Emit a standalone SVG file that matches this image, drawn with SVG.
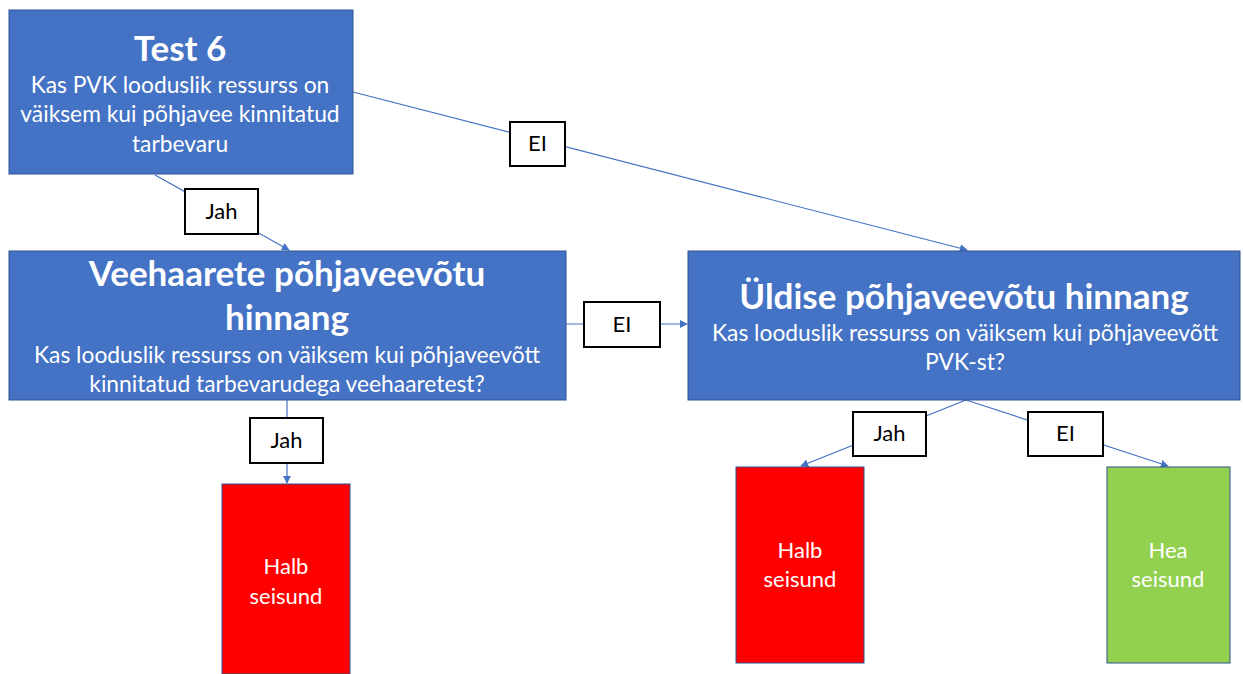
<svg xmlns="http://www.w3.org/2000/svg" width="1243" height="674" viewBox="0 0 1243 674">
  <style>
    .blue { fill: #4472C4; stroke: #2F528F; stroke-width: 1; }
    .red { fill: #FF0000; stroke: #2F528F; stroke-width: 1; }
    .green { fill: #92D050; stroke: #2F528F; stroke-width: 1; }
    .lbl { fill: #FFFFFF; stroke: #000000; stroke-width: 2; }
    .title { font-family: Lato, "Open Sans", sans-serif; font-weight: bold; font-size: 35px; fill: #FFFFFF; text-anchor: middle; }
    .sub { font-family: Lato, "Open Sans", sans-serif; font-size: 22.8px; fill: #FFFFFF; text-anchor: middle; }
    .state { font-family: Lato, "Open Sans", sans-serif; font-size: 22px; fill: #FFFFFF; text-anchor: middle; }
    .ltxt { font-family: Lato, "Open Sans", sans-serif; font-size: 22px; fill: #000000; text-anchor: middle; }
    .conn { stroke: #4472C4; stroke-width: 1.2; fill: none; }
  </style>
  <defs>
    <marker id="arrow" viewBox="0 0 10 10" refX="9" refY="5" markerWidth="8" markerHeight="8" markerUnits="userSpaceOnUse" orient="auto">
      <path d="M0,0 L10,5 L0,10 z" fill="#4472C4"/>
    </marker>
  </defs>
  <rect width="1243" height="674" fill="#FFFFFF"/>

  <!-- connectors -->
  <g id="connectors">
    <line class="conn" x1="155" y1="175" x2="289" y2="250" marker-end="url(#arrow)"/>
    <line class="conn" x1="353" y1="92" x2="967" y2="250" marker-end="url(#arrow)"/>
    <line class="conn" x1="566" y1="324" x2="687" y2="324" marker-end="url(#arrow)"/>
    <line class="conn" x1="287" y1="400" x2="287" y2="483" marker-end="url(#arrow)"/>
    <line class="conn" x1="966" y1="400" x2="801" y2="466" marker-end="url(#arrow)"/>
    <line class="conn" x1="966" y1="400" x2="1168" y2="466" marker-end="url(#arrow)"/>
  </g>

  <g id="test6">
    <rect class="blue" x="9" y="10" width="344" height="164"/>
    <text class="title" x="180" y="61">Test 6</text>
    <text class="sub" x="180" y="93">Kas PVK looduslik ressurss on</text>
    <text class="sub" x="180" y="122">väiksem kui põhjavee kinnitatud</text>
    <text class="sub" x="180" y="152">tarbevaru</text>
  </g>

  <g id="veehaarete">
    <rect class="blue" x="9" y="251" width="557" height="149"/>
    <text class="title" x="287" y="286">Veehaarete põhjaveevõtu</text>
    <text class="title" x="287" y="330">hinnang</text>
    <text class="sub" x="287" y="363">Kas looduslik ressurss on väiksem kui põhjaveevõtt</text>
    <text class="sub" x="287" y="392">kinnitatud tarbevarudega veehaaretest?</text>
  </g>

  <g id="yldise">
    <rect class="blue" x="688" y="251" width="552" height="149"/>
    <text class="title" x="964" y="309">Üldise põhjaveevõtu hinnang</text>
    <text class="sub" x="965" y="341">Kas looduslik ressurss on väiksem kui põhjaveevõtt</text>
    <text class="sub" x="965" y="370">PVK-st?</text>
  </g>

  <g id="halb1">
    <rect class="red" x="222" y="484" width="128" height="190"/>
    <text class="state" x="286" y="574">Halb</text>
    <text class="state" x="286" y="604">seisund</text>
  </g>

  <g id="halb2">
    <rect class="red" x="736" y="467" width="128" height="196"/>
    <text class="state" x="800" y="558">Halb</text>
    <text class="state" x="800" y="587">seisund</text>
  </g>

  <g id="hea">
    <rect class="green" x="1107" y="467" width="123" height="196"/>
    <text class="state" x="1168" y="558">Hea</text>
    <text class="state" x="1168" y="587">seisund</text>
  </g>

  <g id="label-jah-1">
    <rect class="lbl" x="185" y="189" width="73" height="45"/>
    <text class="ltxt" x="221.5" y="219">Jah</text>
  </g>
  <g id="label-ei-1">
    <rect class="lbl" x="510" y="122" width="55" height="44"/>
    <text class="ltxt" x="537.5" y="151">EI</text>
  </g>
  <g id="label-ei-2">
    <rect class="lbl" x="584" y="302" width="76" height="45"/>
    <text class="ltxt" x="622" y="332">EI</text>
  </g>
  <g id="label-jah-2">
    <rect class="lbl" x="250" y="418" width="73" height="45"/>
    <text class="ltxt" x="286.5" y="448">Jah</text>
  </g>
  <g id="label-jah-3">
    <rect class="lbl" x="853" y="412" width="73" height="44"/>
    <text class="ltxt" x="889.5" y="441">Jah</text>
  </g>
  <g id="label-ei-3">
    <rect class="lbl" x="1028" y="412" width="75" height="44"/>
    <text class="ltxt" x="1065.5" y="441">EI</text>
  </g>
</svg>
